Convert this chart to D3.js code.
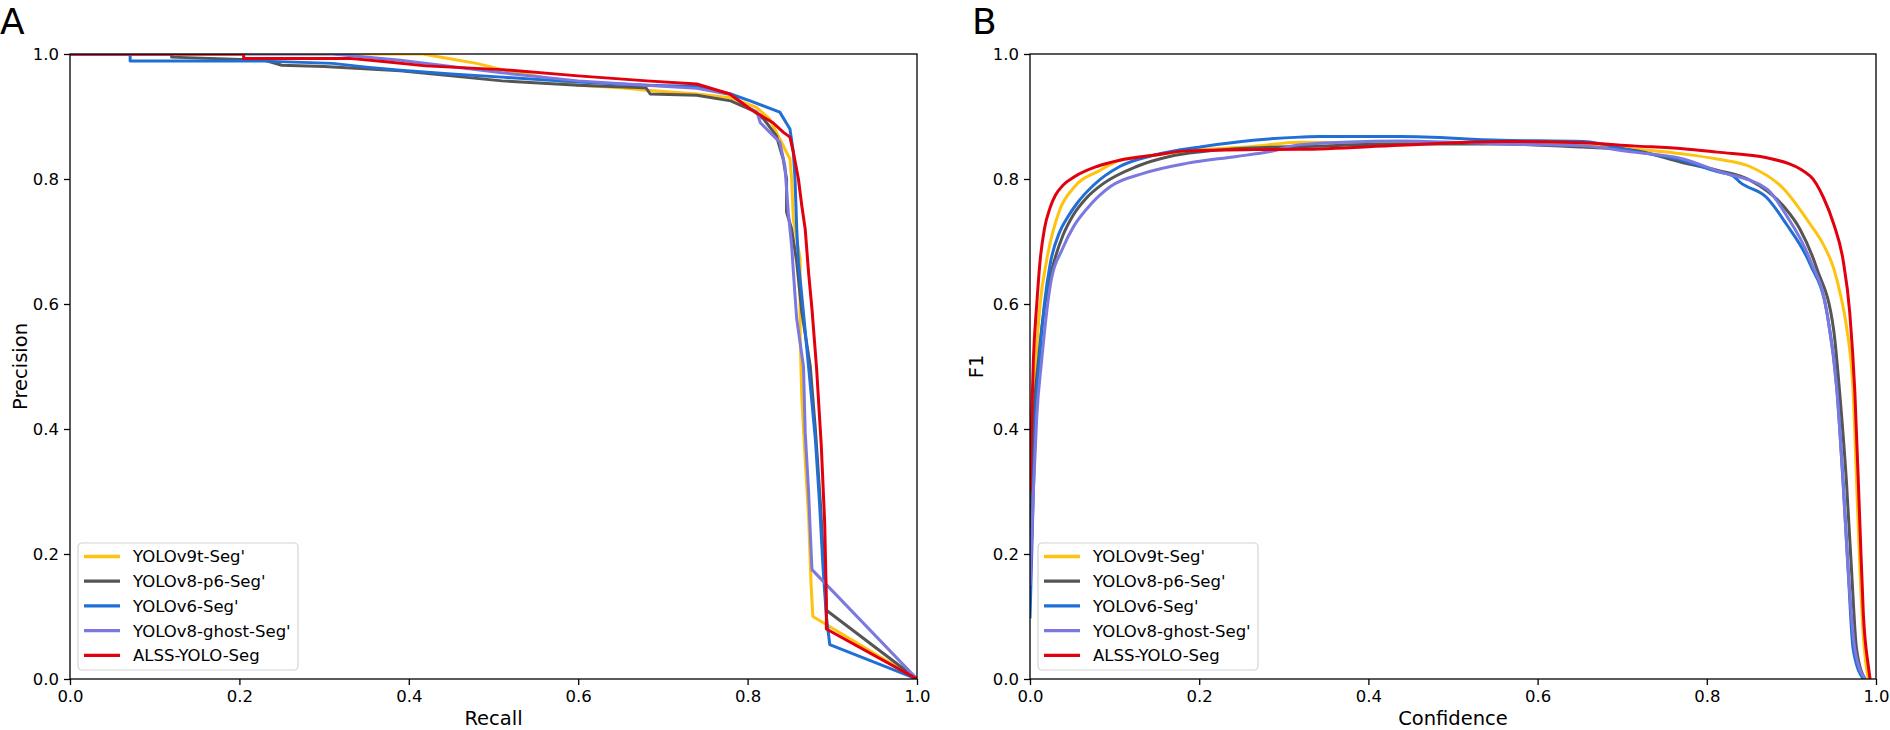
<!DOCTYPE html>
<html>
<head>
<meta charset="utf-8">
<script src="https://cdn.jsdelivr.net/npm/d3@7"></script>
<style>
    body { margin: 0; background: #fff; }
    text { font-family: "DejaVu Sans", sans-serif; }
</style>
</head>
<body>
<div id="chart"></div>
<script>
// series names and colours, in legend order
const seriesNames = ["YOLOv9t-Seg'", "YOLOv8-p6-Seg'", "YOLOv6-Seg'", "YOLOv8-ghost-Seg'", "ALSS-YOLO-Seg"];
const seriesColors = ['#ffc20e', '#555555', '#1f6fd6', '#7b78e0', '#e2000f'];
const ticks = [0, 0.2, 0.4, 0.6, 0.8, 1.0];

// A: precision-recall, [recall, precision]
const prV9t = [[0, 1], [0.417, 1], [0.45, 0.992], [0.48, 0.985], [0.51, 0.975], [0.55, 0.965], [0.6, 0.95],
    [0.65, 0.946], [0.681, 0.942], [0.74, 0.936], [0.78, 0.93], [0.81, 0.915], [0.826, 0.896], [0.85, 0.832],
    [0.852, 0.8], [0.854, 0.736], [0.862, 0.672], [0.862, 0.55], [0.864, 0.45], [0.868, 0.35], [0.872, 0.26],
    [0.875, 0.15], [0.877, 0.10], [1, 0]];
const prP6 = [[0, 1], [0.12, 1], [0.12, 0.995], [0.23, 0.99], [0.25, 0.982], [0.3, 0.98], [0.39, 0.973],
    [0.45, 0.965], [0.51, 0.957], [0.6, 0.95], [0.68, 0.946], [0.685, 0.936], [0.74, 0.934], [0.78, 0.925],
    [0.807, 0.909], [0.819, 0.896], [0.834, 0.869], [0.842, 0.832], [0.846, 0.8], [0.846, 0.747], [0.852, 0.72],
    [0.858, 0.667], [0.864, 0.587], [0.874, 0.5], [0.88, 0.4], [0.886, 0.28], [0.89, 0.18], [0.893, 0.11], [1, 0]];
const prV6 = [[0, 1], [0.071, 1], [0.071, 0.989], [0.22, 0.989], [0.31, 0.985], [0.35, 0.979], [0.39, 0.974],
    [0.45, 0.968], [0.51, 0.963], [0.6, 0.955], [0.68, 0.95], [0.74, 0.948], [0.78, 0.936], [0.803, 0.925],
    [0.838, 0.907], [0.85, 0.88], [0.854, 0.843], [0.856, 0.8], [0.858, 0.72], [0.86, 0.667], [0.864, 0.613],
    [0.872, 0.5], [0.88, 0.384], [0.885, 0.28], [0.889, 0.18], [0.893, 0.10], [0.897, 0.055], [1, 0]];
const prGhost = [[0, 1], [0.31, 1], [0.39, 0.99], [0.45, 0.98], [0.51, 0.97], [0.6, 0.957], [0.68, 0.95],
    [0.74, 0.945], [0.78, 0.935], [0.8, 0.915], [0.811, 0.907], [0.815, 0.89], [0.826, 0.875], [0.838, 0.859],
    [0.844, 0.821], [0.848, 0.747], [0.852, 0.693], [0.856, 0.613], [0.858, 0.576], [0.866, 0.5], [0.868, 0.395],
    [0.872, 0.3], [0.874, 0.235], [0.876, 0.175], [1, 0]];
const prAlss = [[0, 1], [0.205, 1], [0.205, 0.993], [0.33, 0.993], [0.37, 0.988], [0.42, 0.981], [0.51, 0.975],
    [0.6, 0.965], [0.681, 0.957], [0.74, 0.952], [0.779, 0.936], [0.803, 0.912], [0.83, 0.89], [0.842, 0.875],
    [0.85, 0.867], [0.854, 0.843], [0.86, 0.8], [0.864, 0.757], [0.868, 0.72], [0.872, 0.65], [0.876, 0.592],
    [0.8815, 0.496], [0.887, 0.373], [0.891, 0.25], [0.893, 0.128], [0.893, 0.08], [1, 0]];

// B: F1-confidence, [confidence, F1]
const f1V9t = [[0, 0.25], [0.003, 0.4], [0.007, 0.51], [0.012, 0.6], [0.0197, 0.67], [0.035, 0.75], [0.051, 0.785],
    [0.083, 0.814], [0.106, 0.83], [0.146, 0.838], [0.185, 0.845], [0.264, 0.852], [0.319, 0.859], [0.437, 0.857],
    [0.556, 0.857], [0.654, 0.854], [0.713, 0.848], [0.772, 0.84], [0.812, 0.832], [0.851, 0.82], [0.891, 0.784],
    [0.922, 0.728], [0.937, 0.697], [0.95, 0.657], [0.958, 0.615], [0.965, 0.565], [0.973, 0.459], [0.977, 0.317],
    [0.981, 0.176], [0.985, 0.069], [0.991, 0]];
const f1P6 = [[0, 0.2], [0.004, 0.4], [0.01, 0.51], [0.02, 0.62], [0.03, 0.675], [0.039, 0.71], [0.051, 0.742],
    [0.067, 0.77], [0.087, 0.793], [0.126, 0.82], [0.165, 0.836], [0.205, 0.844], [0.284, 0.851], [0.319, 0.852],
    [0.437, 0.856], [0.556, 0.856], [0.654, 0.851], [0.713, 0.846], [0.772, 0.826], [0.812, 0.814], [0.851, 0.798],
    [0.891, 0.756], [0.91, 0.72], [0.93, 0.657], [0.95, 0.558], [0.957, 0.459], [0.965, 0.317], [0.971, 0.176],
    [0.977, 0.048], [0.987, 0]];
const f1V6 = [[0, 0.097], [0.003, 0.25], [0.006, 0.4], [0.011, 0.51], [0.017, 0.6], [0.024, 0.665], [0.035, 0.715],
    [0.045, 0.74], [0.055, 0.76], [0.075, 0.79], [0.106, 0.82], [0.146, 0.838], [0.205, 0.852], [0.264, 0.862],
    [0.319, 0.867], [0.343, 0.868], [0.437, 0.868], [0.556, 0.862], [0.654, 0.86], [0.713, 0.845], [0.772, 0.829],
    [0.812, 0.812], [0.831, 0.805], [0.839, 0.795], [0.871, 0.77], [0.894, 0.728], [0.922, 0.664], [0.942, 0.586],
    [0.954, 0.459], [0.961, 0.317], [0.967, 0.176], [0.973, 0.048], [0.985, 0]];
const f1Ghost = [[0, 0.15], [0.004, 0.3], [0.008, 0.42], [0.0138, 0.51], [0.024, 0.63], [0.039, 0.69],
    [0.052, 0.725], [0.067, 0.752], [0.095, 0.788], [0.134, 0.809], [0.185, 0.825], [0.244, 0.836], [0.284, 0.844],
    [0.319, 0.855], [0.437, 0.861], [0.556, 0.856], [0.654, 0.853], [0.713, 0.843], [0.772, 0.832], [0.812, 0.813],
    [0.871, 0.784], [0.894, 0.742], [0.922, 0.671], [0.942, 0.586], [0.954, 0.459], [0.961, 0.317], [0.967, 0.176],
    [0.975, 0.048], [0.987, 0]];
const f1Alss = [[0, 0.3], [0.002, 0.42], [0.004, 0.51], [0.008, 0.6], [0.012, 0.67], [0.017, 0.72], [0.024, 0.755],
    [0.03, 0.774], [0.039, 0.79], [0.053, 0.804], [0.079, 0.82], [0.106, 0.83], [0.146, 0.838], [0.185, 0.845],
    [0.264, 0.847], [0.319, 0.8475], [0.437, 0.854], [0.556, 0.86], [0.654, 0.858], [0.713, 0.853], [0.772, 0.8485],
    [0.812, 0.843], [0.871, 0.834], [0.922, 0.805], [0.938, 0.77], [0.95, 0.728], [0.961, 0.671], [0.969, 0.586],
    [0.975, 0.459], [0.981, 0.246], [0.985, 0.105], [0.991, 0.02], [0.993, 0]];

const svgWidth = 1890;
const svgHeight = 730;

const svg = d3.select('#chart')
    .append('svg')
    .attr('width', svgWidth)
    .attr('height', svgHeight);

function drawPanel(p) {
    const x = d3.scaleLinear().domain([0, 1]).range([p.left, p.right]);
    const y = d3.scaleLinear().domain([0, 1]).range([p.bottom, p.top]);
    const g = svg.append('g');

    g.append('clipPath').attr('id', 'clip' + p.letter)
        .append('rect')
        .attr('x', p.left).attr('y', p.top)
        .attr('width', p.right - p.left).attr('height', p.bottom - p.top);

    const line = d3.line().x(d => x(d[0])).y(d => y(d[1]));
    if (p.smooth) line.curve(d3.curveMonotoneX);

    g.append('g').attr('clip-path', `url(#clip${p.letter})`)
        .selectAll('path.curve')
        .data(p.series)
        .join('path')
        .attr('class', 'curve')
        .attr('fill', 'none')
        .attr('stroke', (d, i) => seriesColors[i])
        .attr('stroke-width', 3)
        .attr('stroke-linejoin', 'round')
        .attr('d', line);

    const fmt = d3.format('.1f');
    const xAxis = g.append('g')
        .attr('transform', `translate(0,${p.bottom})`)
        .call(d3.axisBottom(x).tickValues(ticks).tickFormat(fmt).tickSize(6).tickPadding(5));
    const yAxis = g.append('g')
        .attr('transform', `translate(${p.left},0)`)
        .call(d3.axisLeft(y).tickValues(ticks).tickFormat(fmt).tickSize(6).tickPadding(5));
    [xAxis, yAxis].forEach(a => {
        a.select('.domain').remove();
        a.selectAll('line').attr('stroke', '#000').attr('stroke-width', 1.3);
        a.selectAll('text').style('font-size', '16.5px').style('font-family', 'DejaVu Sans').attr('fill', '#000');
    });

    // frame on all four sides
    g.append('rect')
        .attr('x', p.left).attr('y', p.top)
        .attr('width', p.right - p.left).attr('height', p.bottom - p.top)
        .attr('fill', 'none').attr('stroke', '#000').attr('stroke-width', 1.3);

    // axis titles
    g.append('text')
        .attr('x', (p.left + p.right) / 2)
        .attr('y', 725)
        .attr('text-anchor', 'middle')
        .style('font-size', '19.5px')
        .text(p.xLabel);

    g.append('text')
        .attr('transform', `translate(${p.yLabelX},${(p.top + p.bottom) / 2}) rotate(-90)`)
        .attr('text-anchor', 'middle')
        .style('font-size', '19.5px')
        .text(p.yLabel);

    // panel letter
    g.append('text')
        .attr('x', p.letterX)
        .attr('y', 34)
        .style('font-size', '36px')
        .text(p.letter);

    // legend
    const lg = g.append('g').attr('transform', `translate(${p.left + 8},${p.bottom - 136})`);
    lg.append('rect')
        .attr('width', 220).attr('height', 127).attr('rx', 4)
        .attr('fill', '#fff').attr('fill-opacity', 0.8)
        .attr('stroke', '#d4d4d4').attr('stroke-width', 1.2);
    const rows = lg.selectAll('g.row')
        .data(seriesNames)
        .join('g')
        .attr('class', 'row')
        .attr('transform', (d, i) => `translate(0,${13.5 + i * 24.7})`);
    rows.append('line')
        .attr('x1', 6).attr('x2', 42)
        .attr('stroke', (d, i) => seriesColors[i])
        .attr('stroke-width', 3.3);
    rows.append('text')
        .attr('x', 55)
        .attr('dy', '0.36em')
        .style('font-size', '16.5px')
        .text(d => d);
}

drawPanel({
    letter: 'A', letterX: 0,
    left: 70, right: 917, top: 54, bottom: 679,
    xLabel: 'Recall', yLabel: 'Precision', yLabelX: 27,
    series: [prV9t, prP6, prV6, prGhost, prAlss],
    smooth: false
});

drawPanel({
    letter: 'B', letterX: 972,
    left: 1030, right: 1876, top: 54, bottom: 679,
    xLabel: 'Confidence', yLabel: 'F1', yLabelX: 983,
    series: [f1V9t, f1P6, f1V6, f1Ghost, f1Alss],
    smooth: true
});
</script>
</body>
</html>
